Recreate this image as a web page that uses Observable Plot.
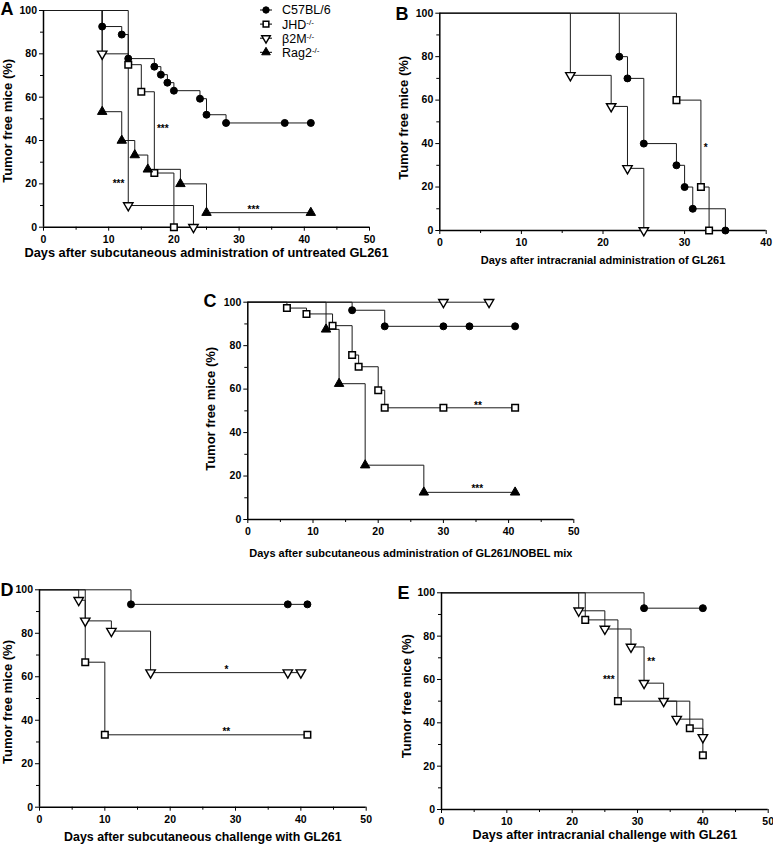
<!DOCTYPE html>
<html><head><meta charset="utf-8">
<script src="https://cdn.jsdelivr.net/npm/d3@7"></script>
<script src="https://cdn.jsdelivr.net/npm/@observablehq/plot@0.6"></script>
<style>
body{margin:0;background:#fff;}
#wrap{position:relative;width:773px;height:847px;overflow:hidden;background:#fff;}
#wrap svg{position:absolute;overflow:visible;}
</style></head><body><div id="wrap"></div>
<script>
// ---------- data: [day, % tumor free] ----------
const A_C57 = [[0,100],[9,92.6],[12,88.9],[13,77.8],[17,74.1],[18,70.4],[19,66.7],[20,63.0],[24,59.3],[25,51.9],[28,48.1],[37,48.1],[41,48.1]];
const A_JHD = [[0,100],[13,75],[15,62.5],[17,25],[20,0]];
const A_B2M = [[0,100],[9,80],[13,10],[23,0]];
const A_RAG = [[0,100],[9,53.3],[12,40],[14,33.3],[16,26.7],[21,20],[25,6.7],[41,6.7]];

const B_C57 = [[0,100],[22,80],[23,70],[25,40],[29,30],[30,20],[31,10],[35,0]];
const B_JHD = [[0,100],[29,60],[32,20],[33,0]];
const B_B2M = [[0,100],[16,71.4],[21,57.1],[23,28.6],[25,0]];

const C_C57 = [[0,100],[16,96.3],[21,88.9],[30,88.9],[34,88.9],[41,88.9]];
const C_JHD = [[0,100],[6,97.3],[9,94.6],[13,89.2],[16,75.7],[17,70.3],[20,59.5],[21,51.4],[30,51.4],[41,51.4]];
const C_B2M = [[0,100],[30,100],[37,100]];
const C_RAG = [[0,100],[12,87.5],[14,62.5],[18,25],[27,12.5],[41,12.5]];

const D_C57 = [[0,100],[14,93.3],[38,93.3],[41,93.3]];
const D_JHD = [[0,100],[7,66.7],[10,33.3],[41,33.3]];
const D_B2M = [[0,100],[6,95.2],[7,85.7],[11,81.0],[17,61.9],[38,61.9],[40,61.9]];

const E_C57 = [[0,100],[31,92.9],[40,92.9]];
const E_JHD = [[0,100],[22,87.5],[27,50],[38,37.5],[40,25]];
const E_B2M = [[0,100],[21,91.7],[25,83.3],[29,75],[31,58.3],[34,50],[36,41.7],[40,33.3]];

// significance annotations [day, %, text]
const A_notes = [[18.3,45.5,"***"],[11.5,19.8,"***"],[32.2,8,"***"]];
const B_notes = [[32.6,38,"*"]];
const C_notes = [[35.3,52.2,"**"],[35.2,14,"***"]];
const D_notes = [[28.6,63.2,"*"],[28.6,34.5,"**"]];
const E_notes = [[32.1,68.2,"**"],[25.6,60,"***"]];

const legendNames = ["C57BL/6","JHD","β2M","Rag2"];
const legendSup = ["","-/-","-/-","-/-"];
const yTicks = [0,20,40,60,80,100];
const yMinor = [10,30,50,70,90];
const yLabel = "Tumor free mice (%)";

// ---------- symbols ----------
const sqrt3 = Math.sqrt(3);
const triangleDown = {draw(ctx, size){const y = -Math.sqrt(size/(sqrt3*3)); ctx.moveTo(0,-y*2); ctx.lineTo(-sqrt3*y,y); ctx.lineTo(sqrt3*y,y); ctx.closePath();}};
const sym = {
  "C57BL/6": {symbol:"circle", r:3.5, fill:"#000", stroke:"#000", strokeWidth:1},
  "JHD": {symbol:"square", r:3.7, fill:"#fff", stroke:"#000", strokeWidth:1.5},
  "β2M": {symbol:triangleDown, r:3.5, fill:"#fff", stroke:"#000", strokeWidth:1.4},
  "Rag2": {symbol:"triangle", r:3.5, fill:"#000", stroke:"#000", strokeWidth:1}
};

const wrap = document.getElementById("wrap");
const FONT = "'Liberation Sans', Arial, Helvetica, sans-serif";

function panel(cfg){
  const rows = [];
  for (const [g, arr] of cfg.series) for (const [day,pct] of arr) rows.push({g, day, pct});
  const notes = cfg.notes.map(([x,y,t]) => ({x,y,t}));
  const xt = d3.range(0, cfg.xmax+1, 10), xm = d3.range(5, cfg.xmax, 10);
  const dots = cfg.series.map(([g]) => Plot.dot(rows.filter(d => d.g === g && d.day > 0), {x:"day", y:"pct", ...sym[g]}));
  const plot = Plot.plot({
    width: cfg.width, height: cfg.height,
    marginLeft: cfg.mL, marginRight: cfg.mR, marginTop: cfg.mT, marginBottom: cfg.mB,
    x: {domain:[0, cfg.xmax]}, y: {domain:[0,100]},
    style: {fontFamily: FONT, fontSize: "10.5px", fontWeight: "bold", color: "#000", background: "transparent", left: cfg.left+"px", top: cfg.top+"px"},
    marks: [
      Plot.axisX({ticks: xt, tickSize: 4, tickPadding: 4, label: null, stroke:"#000"}),
      Plot.axisX({ticks: xm, tickSize: 3, tickFormat: () => "", label: null, stroke:"#000"}),
      Plot.axisY({ticks: yTicks, tickSize: 4, tickPadding: 2.5, label: null, stroke:"#000"}),
      Plot.axisY({ticks: yMinor, tickSize: 3, tickFormat: () => "", label: null, stroke:"#000"}),
      Plot.line(rows, {x:"day", y:"pct", z:"g", curve:"step-after", stroke:"#1a1a1a", strokeWidth:1}),
      Plot.ruleX([0], {stroke:"#000", strokeWidth:1.5}),
      Plot.ruleY([0], {stroke:"#000", strokeWidth:1.5}),
      ...dots,
      Plot.text(notes, {x:"x", y:"y", text:"t", fontSize:10, fontWeight:"bold", fill:"#000"}),
      Plot.text([cfg.xlabel], {text: d => d, frameAnchor:"bottom", lineAnchor:"middle", textAnchor:"middle", dy: cfg.xdy, fontSize: cfg.xsize, fontWeight:"bold", fill:"#000"}),
      Plot.text([yLabel], {text: d => d, frameAnchor:"left", lineAnchor:"middle", textAnchor:"middle", dx: cfg.ydx, dy: cfg.ydy, rotate:-90, fontSize:13, fontWeight:"bold", fill:"#000"}),
      Plot.text([cfg.letter], {text: d => d, frameAnchor:"top-left", lineAnchor:"middle", textAnchor:"start", dx: cfg.ldx, dy: cfg.ldy, fontSize:18, fontWeight:"bold", fill:"#000"})
    ]
  });
  wrap.append(plot);
}

panel({series:[["C57BL/6",A_C57],["JHD",A_JHD],["β2M",A_B2M],["Rag2",A_RAG]], notes:A_notes, xmax:50,
  left:0, top:0, width:390, height:275, mL:43, mR:21, mT:10, mB:48.3,
  xlabel:"Days after subcutaneous administration of untreated GL261", xdy:26, xsize:12.8,
  ydx:-35.5, ydy:2, letter:"A", ldx:-43, ldy:-1});
panel({series:[["C57BL/6",B_C57],["JHD",B_JHD],["β2M",B_B2M]], notes:B_notes, xmax:40,
  left:390, top:0, width:383, height:275, mL:49.3, mR:7.3, mT:12.7, mB:45,
  xlabel:"Days after intracranial administration of GL261", xdy:30, xsize:11,
  ydx:-36.3, ydy:-4, letter:"B", ldx:-44.3, ldy:1});
panel({series:[["C57BL/6",C_C57],["JHD",C_JHD],["β2M",C_B2M],["Rag2",C_RAG]], notes:C_notes, xmax:50,
  left:190, top:290, width:400, height:270, mL:57.3, mR:16.7, mT:11.7, mB:41,
  xlabel:"Days after subcutaneous administration of GL261/NOBEL mix", xdy:34, xsize:11,
  ydx:-37.3, ydy:-2, letter:"C", ldx:-44.3, ldy:-1});
panel({series:[["C57BL/6",D_C57],["JHD",D_JHD],["β2M",D_B2M]], notes:D_notes, xmax:50,
  left:0, top:575, width:390, height:272, mL:39, mR:24.3, mT:14.3, mB:40.3,
  xlabel:"Days after subcutaneous challenge with GL261", xdy:30, xsize:12.4,
  ydx:-32, ydy:3.5, letter:"D", ldx:-39, ldy:0});
panel({series:[["C57BL/6",E_C57],["JHD",E_JHD],["β2M",E_B2M]], notes:E_notes, xmax:50,
  left:390, top:575, width:383, height:272, mL:51, mR:5.3, mT:17.3, mB:38,
  xlabel:"Days after intracranial challenge with GL261", xdy:25, xsize:12.6,
  ydx:-35, ydy:-5, letter:"E", ldx:-44, ldy:0});

// ---------- legend (panel A) ----------
const leg = d3.create("svg").attr("width",120).attr("height",62).style("left","255px").style("top","0px");
legendNames.forEach((name, i) => {
  const cy = 10 + i*14.1, cx = 11;
  const g = leg.append("g");
  g.append("line").attr("x1",5).attr("x2",17).attr("y1",cy).attr("y2",cy).attr("stroke","#000").attr("stroke-width",1);
  const s = sym[name];
  const size = Math.PI * 3.2 * 3.2;
  const type = s.symbol === "circle" ? d3.symbolCircle : s.symbol === "square" ? d3.symbolSquare : s.symbol === "triangle" ? d3.symbolTriangle : triangleDown;
  g.append("path").attr("d", d3.symbol(type, size)()).attr("transform", `translate(${cx},${cy})`)
    .attr("fill", s.fill).attr("stroke", s.stroke).attr("stroke-width", s.strokeWidth);
  const t = g.append("text").attr("x",27).attr("y",cy+4.4).attr("font-family",FONT).attr("font-size",12.5).attr("fill","#000").text(name);
  if (legendSup[i]) t.append("tspan").attr("dy",-4).attr("font-size",8).text(legendSup[i]);
});
wrap.append(leg.node());
</script></body></html>
